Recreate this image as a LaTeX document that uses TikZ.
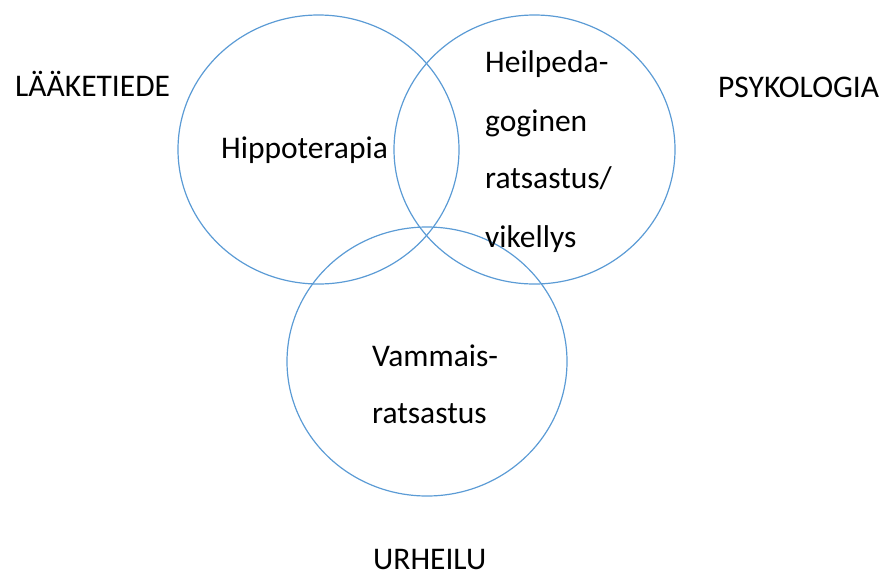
\documentclass[tikz,border=0pt]{standalone}
\usepackage{fontspec}
\setmainfont{Carlito}
\definecolor{ringblue}{RGB}{91,155,213}
\begin{document}
\begin{tikzpicture}[x=1pt,y=-1pt,
  ring/.style={draw=ringblue,line width=1.2pt},
  lbl/.style={anchor=base west,inner sep=0pt,font=\fontsize{31.5}{37}\selectfont}]
\useasboundingbox (0,0) rectangle (886,574);
\draw[ring] (318.5,149.5) ellipse [x radius=140.5, y radius=134.5];
\draw[ring] (534.5,149.5) ellipse [x radius=140.5, y radius=134.5];
\draw[ring] (427,361.5) ellipse [x radius=140, y radius=134.5];
\node[lbl] (la) at (15,96) {LÄÄKETIEDE};
\node[lbl] (ps) at (718,97) {PSYKOLOGIA};
\node[lbl] (ur) at (373,569) {URHEILU};
\node[lbl] (hi) at (221,158) {Hippoterapia};
\node[lbl] (h1) at (485,72) {Heilpeda-};
\node[lbl] (h2) at (485,131) {goginen};
\node[lbl] (h3) at (485,188) {ratsastus/};
\node[lbl] (h4) at (485,247) {vikellys};
\node[lbl] (v1) at (372,366) {Vammais-};
\node[lbl] (v2) at (372,423) {ratsastus};
\end{tikzpicture}
\end{document}
